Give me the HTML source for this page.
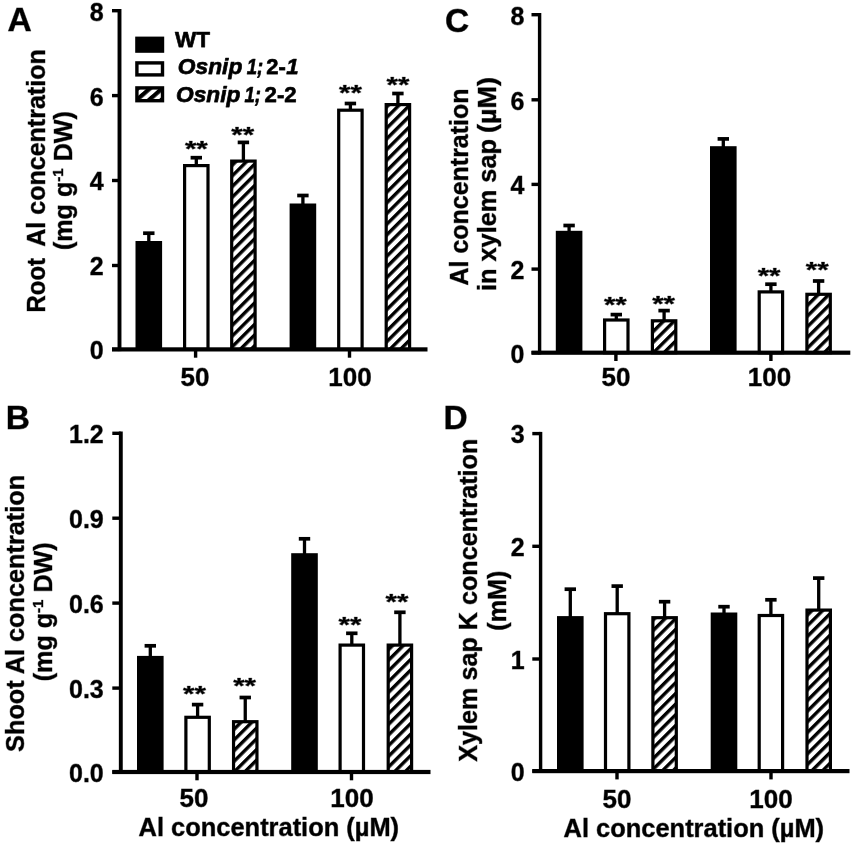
<!DOCTYPE html>
<html><head><meta charset="utf-8"><title>Figure</title>
<style>html,body{margin:0;padding:0;background:#fff;}svg{display:block;}text{font-family:'Liberation Sans', sans-serif;fill:#000;stroke:#000;stroke-opacity:0.5;stroke-width:0.8px;stroke-linejoin:round;}</style>
</head><body>
<svg width="855" height="844" viewBox="0 0 855 844">
<defs><filter id="idf" x="0" y="0" width="855" height="844" filterUnits="userSpaceOnUse"><feOffset dx="0" dy="0"/></filter><pattern id="hatch" patternUnits="userSpaceOnUse" width="7.55" height="7.55" patternTransform="rotate(-45)"><rect x="0" y="0" width="7.55" height="7.55" fill="#fff"/><rect x="0" y="0" width="7.55" height="3.4" fill="#000"/></pattern><pattern id="hatch2" patternUnits="userSpaceOnUse" width="8.1" height="8.1" x="2" y="1" patternTransform="rotate(-41)"><rect x="0" y="0" width="8.1" height="8.1" fill="#fff"/><rect x="0" y="0" width="8.1" height="4.2" fill="#000"/></pattern></defs>
<rect x="0" y="0" width="855" height="844" fill="#fff"/>
<g filter="url(#idf)">
<rect x="147.15" y="233.20" width="3.3" height="8.80" fill="#000"/>
<rect x="143.10" y="231.35" width="11.4" height="3.7" fill="#000"/>
<rect x="135.50" y="241.00" width="26.6" height="108.40" fill="#000"/>
<rect x="194.65" y="157.70" width="3.3" height="7.30" fill="#000"/>
<rect x="190.60" y="155.85" width="11.4" height="3.7" fill="#000"/>
<rect x="184.60" y="165.60" width="23.40" height="183.80" fill="#fff" stroke="#000" stroke-width="3.2"/>
<rect x="241.75" y="142.40" width="3.3" height="18.10" fill="#000"/>
<rect x="237.70" y="140.55" width="11.4" height="3.7" fill="#000"/>
<rect x="231.70" y="161.10" width="23.40" height="188.30" fill="url(#hatch)" stroke="#000" stroke-width="3.2"/>
<rect x="301.25" y="195.50" width="3.3" height="9.00" fill="#000"/>
<rect x="297.20" y="193.65" width="11.4" height="3.7" fill="#000"/>
<rect x="289.60" y="203.50" width="26.6" height="145.90" fill="#000"/>
<rect x="348.75" y="103.50" width="3.3" height="6.10" fill="#000"/>
<rect x="344.70" y="101.65" width="11.4" height="3.7" fill="#000"/>
<rect x="338.70" y="110.20" width="23.40" height="239.20" fill="#fff" stroke="#000" stroke-width="3.2"/>
<rect x="396.25" y="93.50" width="3.3" height="10.50" fill="#000"/>
<rect x="392.20" y="91.65" width="11.4" height="3.7" fill="#000"/>
<rect x="386.20" y="104.60" width="23.40" height="244.80" fill="url(#hatch)" stroke="#000" stroke-width="3.2"/>
<text transform="translate(196.30,145.00) scale(1.13,0.84)" x="0" y="13.6" font-size="26" font-weight="bold" text-anchor="middle" class="star">**</text>
<text transform="translate(242.70,130.50) scale(1.13,0.84)" x="0" y="13.6" font-size="26" font-weight="bold" text-anchor="middle" class="star">**</text>
<text transform="translate(350.40,89.00) scale(1.13,0.84)" x="0" y="13.6" font-size="26" font-weight="bold" text-anchor="middle" class="star">**</text>
<text transform="translate(397.90,81.00) scale(1.13,0.84)" x="0" y="13.6" font-size="26" font-weight="bold" text-anchor="middle" class="star">**</text>
<rect x="117.55" y="9.00" width="3.9" height="342.10" fill="#000"/>
<rect x="112.00" y="347.30" width="315.50" height="4.2" fill="#000"/>
<rect x="112.00" y="9.00" width="7.50" height="3.4" fill="#000"/>
<text transform="translate(103.70,20.60) scale(0.96,1)" font-size="26" font-weight="bold" text-anchor="end" class="ytl">8</text>
<rect x="112.00" y="93.90" width="7.50" height="3.4" fill="#000"/>
<text transform="translate(103.70,105.50) scale(0.96,1)" font-size="26" font-weight="bold" text-anchor="end" class="ytl">6</text>
<rect x="112.00" y="178.80" width="7.50" height="3.4" fill="#000"/>
<text transform="translate(103.70,190.40) scale(0.96,1)" font-size="26" font-weight="bold" text-anchor="end" class="ytl">4</text>
<rect x="112.00" y="263.80" width="7.50" height="3.4" fill="#000"/>
<text transform="translate(103.70,275.40) scale(0.96,1)" font-size="26" font-weight="bold" text-anchor="end" class="ytl">2</text>
<rect x="112.00" y="347.70" width="7.50" height="3.4" fill="#000"/>
<text transform="translate(103.70,359.30) scale(0.96,1)" font-size="26" font-weight="bold" text-anchor="end" class="ytl">0</text>
<rect x="193.90" y="349.40" width="3.4" height="8.3" fill="#000"/>
<text x="194.9" y="386" font-size="26" font-weight="bold" font-style="normal" text-anchor="middle" class="xtl">50</text>
<rect x="347.80" y="349.40" width="3.4" height="8.3" fill="#000"/>
<text x="350" y="386" font-size="26" font-weight="bold" font-style="normal" text-anchor="middle" class="xtl">100</text>
<rect x="148.65" y="645.80" width="3.3" height="11.10" fill="#000"/>
<rect x="144.60" y="643.95" width="11.4" height="3.7" fill="#000"/>
<rect x="137.00" y="655.90" width="26.6" height="116.10" fill="#000"/>
<rect x="195.95" y="704.60" width="3.3" height="12.10" fill="#000"/>
<rect x="191.90" y="702.75" width="11.4" height="3.7" fill="#000"/>
<rect x="185.90" y="717.30" width="23.40" height="54.70" fill="#fff" stroke="#000" stroke-width="3.2"/>
<rect x="243.60" y="697.50" width="3.3" height="23.60" fill="#000"/>
<rect x="239.55" y="695.65" width="11.4" height="3.7" fill="#000"/>
<rect x="233.55" y="721.70" width="23.40" height="50.30" fill="url(#hatch)" stroke="#000" stroke-width="3.2"/>
<rect x="302.85" y="538.80" width="3.3" height="15.40" fill="#000"/>
<rect x="298.80" y="536.95" width="11.4" height="3.7" fill="#000"/>
<rect x="291.20" y="553.20" width="26.6" height="218.80" fill="#000"/>
<rect x="350.15" y="633.30" width="3.3" height="11.20" fill="#000"/>
<rect x="346.10" y="631.45" width="11.4" height="3.7" fill="#000"/>
<rect x="340.10" y="645.10" width="23.40" height="126.90" fill="#fff" stroke="#000" stroke-width="3.2"/>
<rect x="398.25" y="612.30" width="3.3" height="32.20" fill="#000"/>
<rect x="394.20" y="610.45" width="11.4" height="3.7" fill="#000"/>
<rect x="388.20" y="645.10" width="23.40" height="126.90" fill="url(#hatch)" stroke="#000" stroke-width="3.2"/>
<text transform="translate(194.50,689.50) scale(1.13,0.84)" x="0" y="13.6" font-size="26" font-weight="bold" text-anchor="middle" class="star">**</text>
<text transform="translate(244.60,681.50) scale(1.13,0.84)" x="0" y="13.6" font-size="26" font-weight="bold" text-anchor="middle" class="star">**</text>
<text transform="translate(350.00,620.50) scale(1.13,0.84)" x="0" y="13.6" font-size="26" font-weight="bold" text-anchor="middle" class="star">**</text>
<text transform="translate(396.90,597.50) scale(1.13,0.84)" x="0" y="13.6" font-size="26" font-weight="bold" text-anchor="middle" class="star">**</text>
<rect x="118.85" y="431.50" width="3.9" height="342.20" fill="#000"/>
<rect x="112.30" y="769.90" width="318.20" height="4.2" fill="#000"/>
<rect x="112.30" y="431.60" width="8.50" height="3.4" fill="#000"/>
<text transform="translate(103.70,442.90) scale(0.96,1)" font-size="26" font-weight="bold" text-anchor="end" class="ytl">1.2</text>
<rect x="112.30" y="516.50" width="8.50" height="3.4" fill="#000"/>
<text transform="translate(103.70,527.80) scale(0.96,1)" font-size="26" font-weight="bold" text-anchor="end" class="ytl">0.9</text>
<rect x="112.30" y="601.40" width="8.50" height="3.4" fill="#000"/>
<text transform="translate(103.70,612.70) scale(0.96,1)" font-size="26" font-weight="bold" text-anchor="end" class="ytl">0.6</text>
<rect x="112.30" y="686.40" width="8.50" height="3.4" fill="#000"/>
<text transform="translate(103.70,697.70) scale(0.96,1)" font-size="26" font-weight="bold" text-anchor="end" class="ytl">0.3</text>
<rect x="112.30" y="770.30" width="8.50" height="3.4" fill="#000"/>
<text transform="translate(103.70,781.60) scale(0.96,1)" font-size="26" font-weight="bold" text-anchor="end" class="ytl">0.0</text>
<rect x="195.30" y="772.00" width="3.4" height="8.3" fill="#000"/>
<text x="194" y="807" font-size="26" font-weight="bold" font-style="normal" text-anchor="middle" class="xtl">50</text>
<rect x="349.80" y="772.00" width="3.4" height="8.3" fill="#000"/>
<text x="352" y="807" font-size="26" font-weight="bold" font-style="normal" text-anchor="middle" class="xtl">100</text>
<rect x="567.45" y="225.50" width="3.3" height="6.30" fill="#000"/>
<rect x="563.40" y="223.65" width="11.4" height="3.7" fill="#000"/>
<rect x="555.80" y="230.80" width="26.6" height="121.90" fill="#000"/>
<rect x="614.65" y="314.60" width="3.3" height="4.80" fill="#000"/>
<rect x="610.60" y="312.75" width="11.4" height="3.7" fill="#000"/>
<rect x="604.60" y="320.00" width="23.40" height="32.70" fill="#fff" stroke="#000" stroke-width="3.2"/>
<rect x="662.45" y="310.60" width="3.3" height="9.60" fill="#000"/>
<rect x="658.40" y="308.75" width="11.4" height="3.7" fill="#000"/>
<rect x="652.40" y="320.80" width="23.40" height="31.90" fill="url(#hatch)" stroke="#000" stroke-width="3.2"/>
<rect x="721.65" y="138.90" width="3.3" height="8.30" fill="#000"/>
<rect x="717.60" y="137.05" width="11.4" height="3.7" fill="#000"/>
<rect x="710.00" y="146.20" width="26.6" height="206.50" fill="#000"/>
<rect x="769.25" y="284.20" width="3.3" height="7.10" fill="#000"/>
<rect x="765.20" y="282.35" width="11.4" height="3.7" fill="#000"/>
<rect x="759.20" y="291.90" width="23.40" height="60.80" fill="#fff" stroke="#000" stroke-width="3.2"/>
<rect x="816.95" y="281.00" width="3.3" height="12.70" fill="#000"/>
<rect x="812.90" y="279.15" width="11.4" height="3.7" fill="#000"/>
<rect x="806.90" y="294.30" width="23.40" height="58.40" fill="url(#hatch)" stroke="#000" stroke-width="3.2"/>
<text transform="translate(615.30,301.00) scale(1.13,0.84)" x="0" y="13.6" font-size="26" font-weight="bold" text-anchor="middle" class="star">**</text>
<text transform="translate(663.60,299.20) scale(1.13,0.84)" x="0" y="13.6" font-size="26" font-weight="bold" text-anchor="middle" class="star">**</text>
<text transform="translate(769.10,271.40) scale(1.13,0.84)" x="0" y="13.6" font-size="26" font-weight="bold" text-anchor="middle" class="star">**</text>
<text transform="translate(817.20,265.50) scale(1.13,0.84)" x="0" y="13.6" font-size="26" font-weight="bold" text-anchor="middle" class="star">**</text>
<rect x="537.90" y="13.00" width="3.4" height="341.40" fill="#000"/>
<rect x="531.50" y="350.60" width="318.80" height="4.2" fill="#000"/>
<rect x="531.50" y="13.00" width="8.10" height="3.4" fill="#000"/>
<text transform="translate(524.30,24.70) scale(0.96,1)" font-size="26" font-weight="bold" text-anchor="end" class="ytl">8</text>
<rect x="531.50" y="98.10" width="8.10" height="3.4" fill="#000"/>
<text transform="translate(524.30,109.80) scale(0.96,1)" font-size="26" font-weight="bold" text-anchor="end" class="ytl">6</text>
<rect x="531.50" y="182.70" width="8.10" height="3.4" fill="#000"/>
<text transform="translate(524.30,194.40) scale(0.96,1)" font-size="26" font-weight="bold" text-anchor="end" class="ytl">4</text>
<rect x="531.50" y="267.40" width="8.10" height="3.4" fill="#000"/>
<text transform="translate(524.30,279.10) scale(0.96,1)" font-size="26" font-weight="bold" text-anchor="end" class="ytl">2</text>
<rect x="531.50" y="351.00" width="8.10" height="3.4" fill="#000"/>
<text transform="translate(524.30,362.70) scale(0.96,1)" font-size="26" font-weight="bold" text-anchor="end" class="ytl">0</text>
<rect x="614.20" y="352.70" width="3.4" height="8.3" fill="#000"/>
<text x="616" y="386" font-size="26" font-weight="bold" font-style="normal" text-anchor="middle" class="xtl">50</text>
<rect x="769.20" y="352.70" width="3.4" height="8.3" fill="#000"/>
<text x="769.5" y="386" font-size="26" font-weight="bold" font-style="normal" text-anchor="middle" class="xtl">100</text>
<rect x="568.65" y="589.20" width="3.3" height="27.90" fill="#000"/>
<rect x="564.60" y="587.35" width="11.4" height="3.7" fill="#000"/>
<rect x="557.00" y="616.10" width="26.6" height="155.00" fill="#000"/>
<rect x="615.55" y="586.10" width="3.3" height="27.00" fill="#000"/>
<rect x="611.50" y="584.25" width="11.4" height="3.7" fill="#000"/>
<rect x="605.50" y="613.70" width="23.40" height="157.40" fill="#fff" stroke="#000" stroke-width="3.2"/>
<rect x="662.95" y="601.70" width="3.3" height="15.40" fill="#000"/>
<rect x="658.90" y="599.85" width="11.4" height="3.7" fill="#000"/>
<rect x="652.90" y="617.70" width="23.40" height="153.40" fill="url(#hatch)" stroke="#000" stroke-width="3.2"/>
<rect x="722.35" y="606.70" width="3.3" height="6.80" fill="#000"/>
<rect x="718.30" y="604.85" width="11.4" height="3.7" fill="#000"/>
<rect x="710.70" y="612.50" width="26.6" height="158.60" fill="#000"/>
<rect x="769.25" y="599.80" width="3.3" height="15.10" fill="#000"/>
<rect x="765.20" y="597.95" width="11.4" height="3.7" fill="#000"/>
<rect x="759.20" y="615.50" width="23.40" height="155.60" fill="#fff" stroke="#000" stroke-width="3.2"/>
<rect x="817.05" y="578.10" width="3.3" height="31.40" fill="#000"/>
<rect x="813.00" y="576.25" width="11.4" height="3.7" fill="#000"/>
<rect x="807.00" y="610.10" width="23.40" height="161.00" fill="url(#hatch)" stroke="#000" stroke-width="3.2"/>
<rect x="538.90" y="431.90" width="3.4" height="340.90" fill="#000"/>
<rect x="532.30" y="769.00" width="317.20" height="4.2" fill="#000"/>
<rect x="532.30" y="431.90" width="8.30" height="3.4" fill="#000"/>
<text transform="translate(524.70,443.20) scale(0.96,1)" font-size="26" font-weight="bold" text-anchor="end" class="ytl">3</text>
<rect x="532.30" y="544.60" width="8.30" height="3.4" fill="#000"/>
<text transform="translate(524.70,555.90) scale(0.96,1)" font-size="26" font-weight="bold" text-anchor="end" class="ytl">2</text>
<rect x="532.30" y="657.30" width="8.30" height="3.4" fill="#000"/>
<text transform="translate(524.70,668.60) scale(0.96,1)" font-size="26" font-weight="bold" text-anchor="end" class="ytl">1</text>
<rect x="532.30" y="769.40" width="8.30" height="3.4" fill="#000"/>
<text transform="translate(524.70,780.70) scale(0.96,1)" font-size="26" font-weight="bold" text-anchor="end" class="ytl">0</text>
<rect x="615.30" y="771.10" width="3.4" height="8.3" fill="#000"/>
<text x="617.0" y="807.6" font-size="26" font-weight="bold" font-style="normal" text-anchor="middle" class="xtl">50</text>
<rect x="769.30" y="771.10" width="3.4" height="8.3" fill="#000"/>
<text x="771" y="807.6" font-size="26" font-weight="bold" font-style="normal" text-anchor="middle" class="xtl">100</text>
<text x="7.6" y="31" font-size="33.5" font-weight="bold" font-style="normal" text-anchor="start">A</text>
<text x="5.7" y="428.6" font-size="33.5" font-weight="bold" font-style="normal" text-anchor="start">B</text>
<text x="445.0" y="31.8" font-size="33.5" font-weight="bold" font-style="normal" text-anchor="start">C</text>
<text x="443.6" y="428.8" font-size="33.5" font-weight="bold" font-style="normal" text-anchor="start">D</text>
<rect x="135.2" y="36.6" width="29" height="16.2" fill="#000"/>
<rect x="136.9" y="62.9" width="25.6" height="12" fill="#fff" stroke="#000" stroke-width="3.4"/>
<rect x="136.9" y="87.9" width="25.6" height="12.8" fill="url(#hatch2)" stroke="#000" stroke-width="3.4"/>
<text x="175.0" y="46.9" font-size="22.6" font-weight="bold" font-style="normal" text-anchor="start" textLength="35.0" lengthAdjust="spacingAndGlyphs" style="stroke-opacity:0.9;stroke-width:0.75px">WT</text>
<text x="177.8" y="74.4" font-size="22.2" font-weight="bold" font-style="italic" text-anchor="start" textLength="64.5" lengthAdjust="spacingAndGlyphs" style="stroke-opacity:0.9;stroke-width:0.75px">Osnip</text>
<text x="246.8" y="74.4" font-size="22.2" font-weight="bold" font-style="italic" text-anchor="start" textLength="16.5" lengthAdjust="spacingAndGlyphs" style="stroke-opacity:0.9;stroke-width:0.75px">1;</text>
<text x="266.3" y="74.4" font-size="22.2" font-weight="bold" font-style="normal" text-anchor="start" textLength="19.5" lengthAdjust="spacingAndGlyphs" style="stroke-opacity:0.9;stroke-width:0.75px">2-</text>
<text x="286.3" y="74.4" font-size="22.2" font-weight="bold" font-style="italic" text-anchor="start" style="stroke-opacity:0.9;stroke-width:0.75px">1</text>
<text x="176.0" y="101.8" font-size="22.2" font-weight="bold" font-style="italic" text-anchor="start" textLength="64.5" lengthAdjust="spacingAndGlyphs" style="stroke-opacity:0.9;stroke-width:0.75px">Osnip</text>
<text x="244.4" y="101.8" font-size="22.2" font-weight="bold" font-style="italic" text-anchor="start" textLength="16.5" lengthAdjust="spacingAndGlyphs" style="stroke-opacity:0.9;stroke-width:0.75px">1;</text>
<text x="264.6" y="101.8" font-size="22.2" font-weight="bold" font-style="normal" text-anchor="start" textLength="32" lengthAdjust="spacingAndGlyphs" style="stroke-opacity:0.9;stroke-width:0.75px">2-2</text>
<text transform="translate(44.6,285.2) rotate(-90)" font-size="25" font-weight="bold" text-anchor="middle" textLength="54.5" lengthAdjust="spacingAndGlyphs">Root</text>
<text transform="translate(44.6,148.0) rotate(-90)" font-size="25" font-weight="bold" text-anchor="middle" textLength="197.5" lengthAdjust="spacingAndGlyphs">Al concentration</text>
<text transform="translate(72.3,180.6) rotate(-90)" font-size="25" font-weight="bold" text-anchor="middle" textLength="139" lengthAdjust="spacingAndGlyphs">(mg g<tspan font-size="15" dy="-9">-1</tspan><tspan dy="9"> </tspan>DW)</text>
<text transform="translate(23.6,613.4) rotate(-90)" font-size="25" font-weight="bold" text-anchor="middle" textLength="277" lengthAdjust="spacingAndGlyphs">Shoot Al concentration</text>
<text transform="translate(51.8,611.8) rotate(-90)" font-size="25" font-weight="bold" text-anchor="middle" textLength="139" lengthAdjust="spacingAndGlyphs">(mg g<tspan font-size="15" dy="-9">-1</tspan><tspan dy="9"> </tspan>DW)</text>
<text transform="translate(467.6,187) rotate(-90)" font-size="25" font-weight="bold" text-anchor="middle" textLength="197" lengthAdjust="spacingAndGlyphs">Al concentration</text>
<text transform="translate(496.3,105.0) rotate(-90)" font-size="25" font-weight="bold" text-anchor="middle" textLength="56" lengthAdjust="spacingAndGlyphs">(µM)</text>
<text transform="translate(496.3,215.0) rotate(-90)" font-size="25" font-weight="bold" text-anchor="middle" textLength="152" lengthAdjust="spacingAndGlyphs">in xylem sap</text>
<text transform="translate(477.3,600.2) rotate(-90)" font-size="25" font-weight="bold" text-anchor="middle" textLength="323" lengthAdjust="spacingAndGlyphs">Xylem sap K concentration</text>
<text transform="translate(505.8,600.7) rotate(-90)" font-size="25" font-weight="bold" text-anchor="middle" textLength="60" lengthAdjust="spacingAndGlyphs">(mM)</text>
<text x="138.6" y="836.1" font-size="25" font-weight="bold" font-style="normal" text-anchor="start" textLength="260.5" lengthAdjust="spacingAndGlyphs" id="xt1">Al concentration (µM)</text>
<text x="563.6" y="836.9" font-size="25" font-weight="bold" font-style="normal" text-anchor="start" textLength="260.5" lengthAdjust="spacingAndGlyphs" id="xt2">Al concentration (µM)</text>
</g>
</svg></body></html>
